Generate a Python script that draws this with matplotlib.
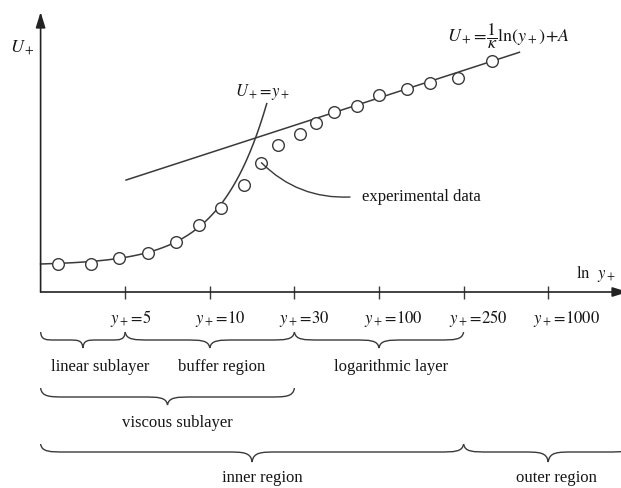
import matplotlib
matplotlib.use("Agg")
import numpy as np
import matplotlib.pyplot as plt
from matplotlib.path import Path
from matplotlib.patches import PathPatch, ArrowStyle

plt.rcParams['font.family'] = ['Liberation Serif', 'DejaVu Serif']
plt.rcParams['mathtext.fontset'] = 'stix'

# Schematic ln(y+) axis: evenly spaced reference values
tick_pos = [1, 2, 3, 4, 5, 6]
tick_vals = ['5', '10', '30', '100', '250', '1000']

# Experimental points (axis position, U+)
data_x = [0.20, 0.60, 0.93, 1.27, 1.60, 1.87, 2.13, 2.40, 2.61, 2.81,
          3.07, 3.26, 3.47, 3.74, 4.00, 4.33, 4.60, 4.93, 5.33]
data_u = [2.80, 2.80, 3.37, 3.93, 5.03, 6.70, 8.43, 10.67, 12.93, 14.67,
          15.77, 16.87, 18.03, 18.60, 19.70, 20.27, 20.87, 21.40, 23.07]

# Log law: U+ = slope * x + intercept, drawn over [start, end]
log_slope = 2.748
log_intercept = 8.42
log_span = [1.01, 5.66]

# Viscous law U+ = y+ (exponential in ln coordinates), scaled for the sketch
visc_offset, visc_scale, visc_rate = 2.668, 0.1316, 1.8
visc_span = [0.0, 2.673]

# Regions marked with braces: (label, start tick, end tick, label x)
regions_row1 = [('linear sublayer', 0, 1, 0.71),
                ('buffer region', 1, 3, 2.14),
                ('logarithmic layer', 3, 5, 4.14)]
regions_row2 = [('viscous sublayer', 0, 3, 1.62)]
regions_row3 = [('inner region', 0, 5, 2.62),
                ('outer region', 5, 7, 6.10)]

# ---- layout -------------------------------------------------------------
W, H = 621, 488
PX_X = 84.6      # pixels per axis unit
PX_U = 10.0      # pixels per U+ unit
ORIGIN = (40.6, 292.0)

LINE = '#3a3a3a'
TEXT = '#161616'
FS = 12

fig = plt.figure(figsize=(W / 100, H / 100), dpi=100)
ax = fig.add_axes([0, 0, 1, 1])
x_lo = -ORIGIN[0] / PX_X
ax.set_xlim(x_lo, x_lo + W / PX_X)
ax.set_ylim((ORIGIN[1] - H) / PX_U, ORIGIN[1] / PX_U)
ax.axis('off')


def row_y(py):
    """Convert a pixel row (from top) to U+ units."""
    return (ORIGIN[1] - py) / PX_U


def col_x(px):
    """Convert a pixel column to axis units."""
    return (px - ORIGIN[0]) / PX_X


# axes with arrow heads
head = ArrowStyle('-|>', head_length=0.55, head_width=0.17)
ax.annotate('', xy=(0, row_y(12)), xytext=(0, 0), annotation_clip=False,
            arrowprops=dict(arrowstyle=head, mutation_scale=17, lw=1.2,
                            color='#222222', shrinkA=0, shrinkB=0))
ax.annotate('', xy=(col_x(628), 0), xytext=(0, 0), annotation_clip=False,
            arrowprops=dict(arrowstyle=head, mutation_scale=17, lw=1.2,
                            color='#222222', shrinkA=0, shrinkB=0))

ax.vlines(tick_pos, row_y(299), row_y(286), color=LINE, lw=1.0)
for p, v in zip(tick_pos, tick_vals):
    ax.text(p - 15 / PX_X, row_y(323), r'$y_+\!=\!%s$' % v, ha='left',
            va='baseline', fontsize=FS, color=TEXT)

ax.text(col_x(22), row_y(48), r'$U_+$', ha='center',
        va='center', fontsize=FS + 1, color=TEXT)
ax.text(col_x(596), row_y(274), r'$\ln\;\;y_+$', ha='center',
        va='center', fontsize=FS, color=TEXT)

# viscous law curve
xv = np.linspace(visc_span[0], visc_span[1], 200)
uv = visc_offset + visc_scale * np.exp(visc_rate * xv)
ax.plot(xv, uv, color=LINE, lw=1.1)
ax.text(col_x(262), row_y(92), r'$U_+\!=\!y_+$', ha='center',
        va='center', fontsize=FS, color=TEXT)

# log law line
xl = np.array(log_span)
ax.plot(xl, log_slope * xl + log_intercept, color=LINE, lw=1.1)
ax.text(col_x(508), row_y(36), r'$U_+\!=\!\dfrac{1}{\kappa}\ln(y_+)\!+\!A$',
        ha='center', va='center', fontsize=FS + 1, color=TEXT)

# experimental data
ax.plot(data_x, data_u, 'o', ms=8.4, mfc='white', mec=LINE, mew=1.0, zorder=3)

# leader to the data label
lead_end = (col_x(350), row_y(197))
ax.annotate('', xy=(data_x[8], data_u[8]), xytext=lead_end,
            arrowprops=dict(arrowstyle='-', color=LINE, lw=1.0,
                            connectionstyle='arc3,rad=-0.22',
                            shrinkA=0, shrinkB=0), zorder=4)
ax.text(col_x(362), row_y(197), 'experimental data', ha='left',
        va='center', fontsize=FS, color=TEXT)


def brace(x0, x1, xm, yt, ym, yb):
    w_px = (x1 - x0) * PX_X
    q = min(0.17 * w_px, 26) / PX_X
    verts = [
        (x0, yt), (x0 + 0.05 * q, ym), (x0 + 0.35 * q, ym), (x0 + q, ym),
        (xm - q, ym),
        (xm - 0.35 * q, ym), (xm - 0.05 * q, ym), (xm, yb),
        (xm + 0.05 * q, ym), (xm + 0.35 * q, ym), (xm + q, ym),
        (x1 - q, ym),
        (x1 - 0.35 * q, ym), (x1 - 0.05 * q, ym), (x1, yt),
    ]
    codes = [Path.MOVETO, Path.CURVE4, Path.CURVE4, Path.CURVE4,
             Path.LINETO,
             Path.CURVE4, Path.CURVE4, Path.CURVE4,
             Path.CURVE4, Path.CURVE4, Path.CURVE4,
             Path.LINETO,
             Path.CURVE4, Path.CURVE4, Path.CURVE4]
    ax.add_patch(PathPatch(Path(verts, codes), fill=False, ec=LINE, lw=1.0,
                           clip_on=False))


rows = [(regions_row1, (332, 340, 348), 371),
        (regions_row2, (388, 397, 405), 427),
        (regions_row3, (444, 452, 462), 482)]
for regions, (pt, pm, pb), base in rows:
    for name, a, b, lx in regions:
        brace(a, b, (a + b) / 2, row_y(pt), row_y(pm), row_y(pb))
        ax.text(lx, row_y(base), name, ha='center', va='baseline',
                fontsize=FS, color=TEXT)

fig.savefig('out.png', dpi=100)
